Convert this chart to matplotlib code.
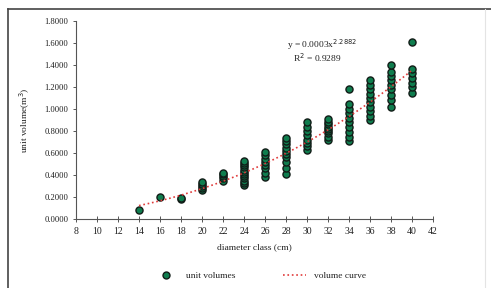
import numpy as np
import matplotlib.pyplot as plt
from matplotlib.lines import Line2D

plt.rcParams['font.family'] = ['Liberation Serif', 'DejaVu Serif']

# unit volumes (m3) per diameter class (cm)
d14 = [0.08]
d16 = [0.20]
d18 = [0.18, 0.19]
d20 = [0.26, 0.28, 0.30, 0.32, 0.34]
d22 = [0.35, 0.37, 0.39, 0.41, 0.42]
d24 = [0.31, 0.33, 0.35, 0.37, 0.39, 0.41, 0.43, 0.45, 0.47, 0.49, 0.51, 0.53]
d26 = [0.38, 0.42, 0.46, 0.49, 0.52, 0.55, 0.58, 0.61]
d28 = [0.41, 0.46, 0.52, 0.56, 0.59, 0.62, 0.65, 0.68, 0.71, 0.74]
d30 = [0.63, 0.66, 0.69, 0.72, 0.76, 0.80, 0.84, 0.88]
d32 = [0.72, 0.75, 0.78, 0.80, 0.82, 0.84, 0.86, 0.88, 0.91]
d34 = [0.71, 0.75, 0.79, 0.84, 0.88, 0.92, 0.96, 1.00, 1.05, 1.18]
d36 = [0.90, 0.94, 0.98, 1.02, 1.06, 1.10, 1.14, 1.18, 1.22, 1.26]
d38 = [1.02, 1.08, 1.13, 1.18, 1.22, 1.26, 1.30, 1.34, 1.40]
d40 = [1.15, 1.20, 1.24, 1.28, 1.33, 1.36, 1.61]

classes = [14, 16, 18, 20, 22, 24, 26, 28, 30, 32, 34, 36, 38, 40]
volumes = [d14, d16, d18, d20, d22, d24, d26, d28, d30, d32, d34, d36, d38, d40]

x = np.concatenate([[c] * len(v) for c, v in zip(classes, volumes)])
y = np.concatenate(volumes)

# power trendline, fitted like excel does (log-log least squares)
b, loga = np.polyfit(np.log(x), np.log(y), 1)
xc = np.linspace(14, 40, 200)
yc = np.exp(loga) * xc ** b

face = '#0f7d4e'
edge = '#111c17'
txt = '#222222'

fig = plt.figure(figsize=(4.91, 2.88), dpi=100)
ax = fig.add_axes([76 / 491, 1 - 219 / 288, (433 - 76) / 491, (219 - 21) / 288])

ax.scatter(x, y, s=26, facecolor=face, edgecolor=edge, linewidth=1.0, zorder=3)
ax.plot(xc, yc, color='#e03a3a', linestyle=':', linewidth=1.2, zorder=4)

ax.set_xlim(8, 42)
ax.set_ylim(0, 1.8)
ax.set_xticks(np.arange(8, 43, 2))
ax.set_yticks(np.arange(0, 1.81, 0.2))
ax.set_yticklabels([f'{v:.4f}' for v in np.arange(0, 1.81, 0.2)])
for s in ['top', 'right']:
    ax.spines[s].set_visible(False)
for s in ['left', 'bottom']:
    ax.spines[s].set_color('#555555')
    ax.spines[s].set_linewidth(0.8)
ax.tick_params(axis='x', direction='inout', length=4, width=0.7, colors='#555555', labelsize=7, labelcolor=txt, pad=4)
ax.tick_params(axis='y', direction='out', length=2.5, width=0.7, colors='#555555', labelsize=6.2, labelcolor=txt, pad=3)

ax.set_xlabel('diameter class (cm)', fontsize=6.8, color=txt, labelpad=5)
ax.set_ylabel('unit volume(m$^3$)', fontsize=6.8, color=txt, labelpad=9)

ax.text(0.69, 0.879, 'y = 0.0003x$^{2.2882}$', transform=ax.transAxes,
        ha='center', va='center', fontsize=6.8, color=txt)
ax.text(0.675, 0.813, 'R$^2$ = 0.9289', transform=ax.transAxes,
        ha='center', va='center', fontsize=6.8, color=txt)

handles = [
    Line2D([], [], marker='o', linestyle='none', markersize=5, markerfacecolor=face,
           markeredgecolor=edge, markeredgewidth=1.0),
    Line2D([], [], color='#e03a3a', linestyle=':', linewidth=1.2),
]
fig.legend(handles, ['unit volumes', 'volume curve'], loc='center', bbox_to_anchor=(0.53, 0.042),
           ncol=2, frameon=False, fontsize=6.8, columnspacing=5, handlelength=2.5,
           labelcolor=txt)

# outer frame of the figure
fig.add_artist(Line2D([8 / 491, 1], [1 - 9 / 288, 1 - 9 / 288], color='#444444', linewidth=1.2, transform=fig.transFigure))
fig.add_artist(Line2D([8 / 491, 8 / 491], [0, 1 - 9 / 288], color='#444444', linewidth=1.2, transform=fig.transFigure))
fig.add_artist(Line2D([485 / 491, 485 / 491], [0, 1 - 9 / 288], color='#e4e4e4', linewidth=0.8, transform=fig.transFigure))

fig.savefig('out.png', dpi=100)
